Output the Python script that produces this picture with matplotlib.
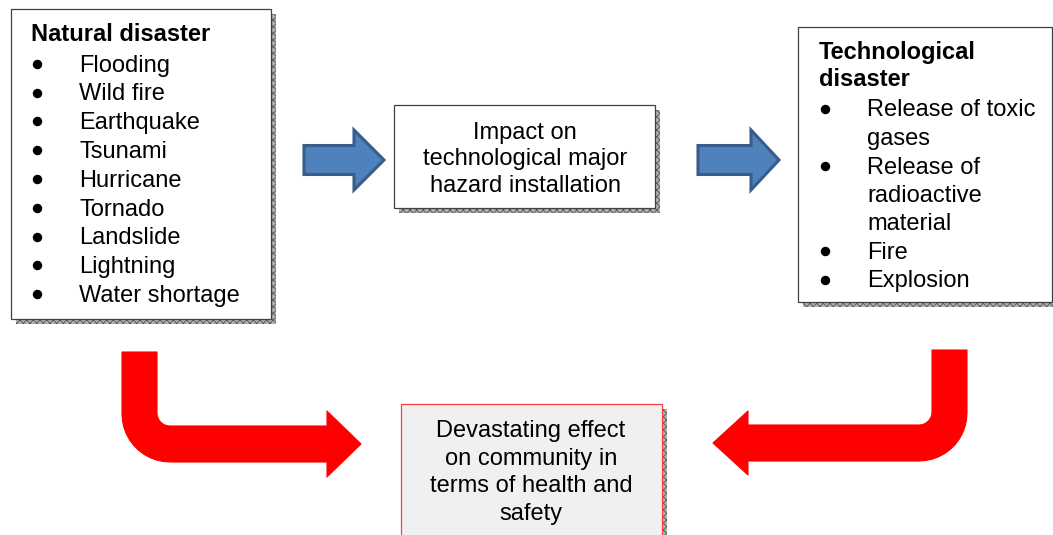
import matplotlib
matplotlib.use("Agg")
import matplotlib.pyplot as plt
import numpy as np
from matplotlib.patches import Rectangle, Polygon

plt.rcParams['font.family'] = ['Liberation Sans', 'DejaVu Sans']
plt.rcParams['hatch.linewidth'] = 0.6

# texts of the diagram
natural_title = "Natural disaster"
natural_items = ["Flooding", "Wild fire", "Earthquake", "Tsunami", "Hurricane",
                 "Tornado", "Landslide", "Lightning", "Water shortage"]
impact_lines = ["Impact on", "technological major", "hazard installation"]
tech_title = ["Technological", "disaster"]
tech_items = [["Release of toxic", "gases"], ["Release of", "radioactive", "material"],
              ["Fire"], ["Explosion"]]
effect_lines = ["Devastating effect", "on community in", "terms of health and", "safety"]

W, H = 1053, 535
fig = plt.figure(figsize=(W / 100, H / 100), dpi=100)
ax = fig.add_axes([0, 0, 1, 1])
ax.set_xlim(0, W)
ax.set_ylim(H, 0)
ax.axis('off')

FS = 17
LINE = 28.8


def box(x0, y0, x1, y1, edge='#404040', face='white'):
    # shadow first, then the box
    ax.add_patch(Rectangle((x0 + 5, y0 + 5), x1 - x0, y1 - y0, facecolor='#b0b0b0',
                           edgecolor='#555555', hatch='xxxxx', lw=0, zorder=1))
    ax.add_patch(Rectangle((x0, y0), x1 - x0, y1 - y0, facecolor=face,
                           edgecolor=edge, lw=0.9, zorder=2))


def bullet(x, yb):
    ax.plot([x], [yb - 8], marker='o', ms=5.8, color='black', zorder=4)


def blue_arrow(x0, x_head, x_tip, y_mid):
    pts = [(x0, y_mid - 14.5), (x_head, y_mid - 14.5), (x_head, y_mid - 30),
           (x_tip, y_mid), (x_head, y_mid + 30), (x_head, y_mid + 14.5),
           (x0, y_mid + 14.5)]
    ax.add_patch(Polygon(pts, closed=True, facecolor='#4f81bd', edgecolor='#385d8a',
                         lw=2.2, joinstyle='miter', zorder=3))


def red_bend(x_out, top, y_in, y_out, x_head, x_tip, head_top, head_bot, d):
    # d = +1 bends to the right, -1 bends to the left
    w = 35
    r, R = 13, 48
    x_in = x_out + d * w
    pts = [(x_out, top), (x_in, top), (x_in, y_in - r)]
    cx, cy = x_in + d * r, y_in - r
    for t in np.linspace(0, np.pi / 2, 12):
        pts.append((cx - d * r * np.cos(t), cy + r * np.sin(t)))
    y_tip = (head_top + head_bot) / 2
    pts += [(x_head, y_in), (x_head, head_top), (x_tip, y_tip),
            (x_head, head_bot), (x_head, y_out)]
    cx, cy = x_out + d * R, y_out - R
    for t in np.linspace(np.pi / 2, np.pi, 12):
        pts.append((cx + d * R * np.cos(t), cy + R * np.sin(t)))
    ax.add_patch(Polygon(pts, closed=True, facecolor='#ff0000', edgecolor='#ff0000',
                         lw=0.8, joinstyle='round', zorder=3))


# left box: natural disaster
box(11, 9, 271, 319)
ax.text(31, 40.7, natural_title, fontsize=FS, fontweight='bold', va='baseline', zorder=4)
for i, item in enumerate(natural_items):
    yb = 71.7 + i * LINE
    bullet(37, yb)
    ax.text(79, yb, item, fontsize=FS, va='baseline', zorder=4)

# middle box
box(394, 105, 655, 208)
for i, line in enumerate(impact_lines):
    ax.text(525, 138.5 + i * 27, line, fontsize=FS, ha='center', va='baseline', zorder=4)

# right box: technological disaster
box(798, 27, 1052, 302)
for i, line in enumerate(tech_title):
    ax.text(819, 59 + i * 27, line, fontsize=FS, fontweight='bold', va='baseline', zorder=4)
yb = 116.5
for lines in tech_items:
    bullet(825, yb)
    for line in lines:
        ax.text(867, yb, line, fontsize=FS, va='baseline', zorder=4)
        yb += 28.5

# bottom box
box(401, 404, 662, 540, edge='#ff4040', face='#f0f0f0')
for i, line in enumerate(effect_lines):
    ax.text(531, 437.5 + i * 27.5, line, fontsize=FS, ha='center', va='baseline', zorder=4)

# arrows
blue_arrow(304, 354, 384, 160)
blue_arrow(698, 751, 779, 160)
red_bend(122, 352, 426, 462, 327, 361, 411, 477, 1)
red_bend(967, 350, 425, 461, 748, 713, 411, 475, -1)

fig.savefig("out.png", dpi=100)
